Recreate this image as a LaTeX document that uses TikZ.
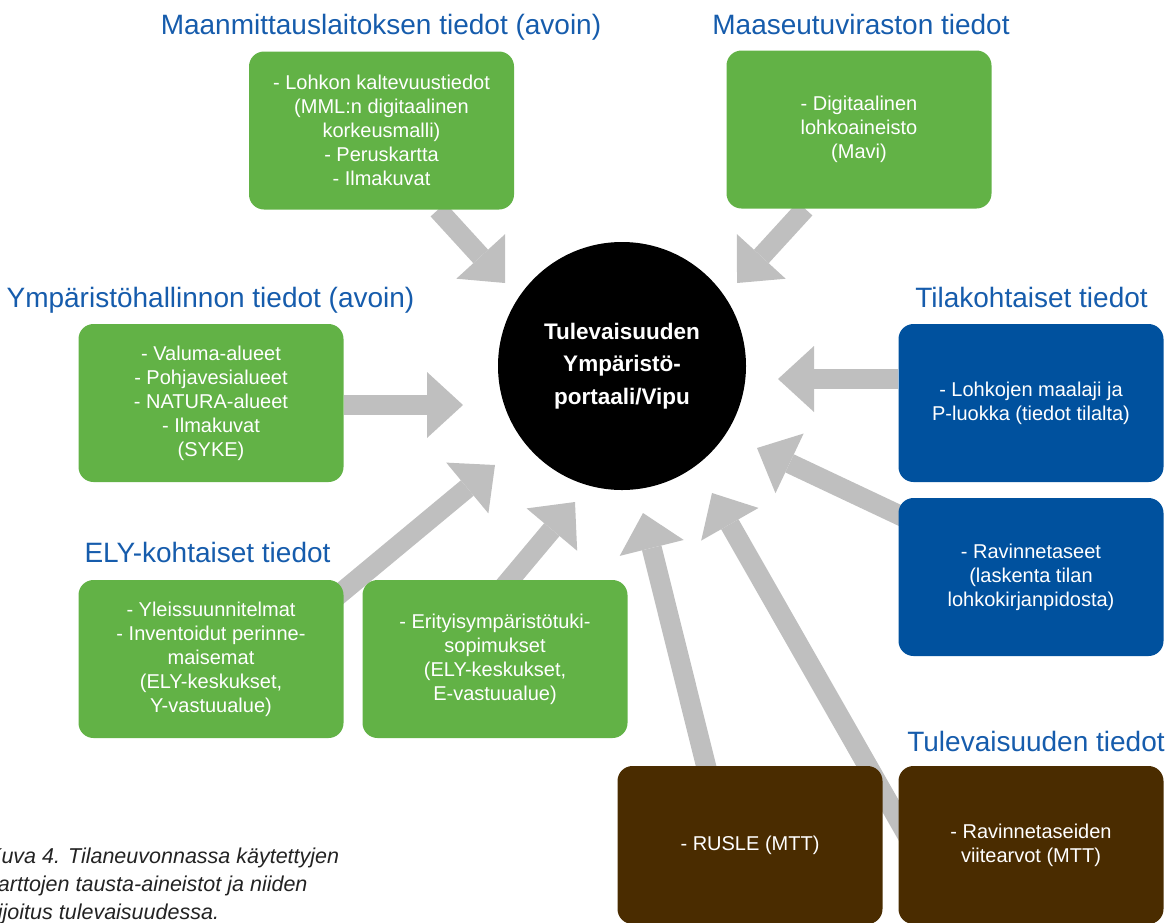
\documentclass[tikz,border=0pt]{standalone}
\usepackage{fontspec}
\setmainfont{Liberation Sans}
\usetikzlibrary{arrows.meta,backgrounds}
\definecolor{boxgreen}{RGB}{98,178,70}
\definecolor{boxblue}{RGB}{0,81,158}
\definecolor{boxbrown}{RGB}{74,44,0}
\definecolor{titleblue}{RGB}{22,92,172}
\definecolor{arrowgray}{RGB}{191,191,191}
\definecolor{captiongray}{RGB}{35,35,35}
\begin{document}
\begin{tikzpicture}[x=1pt,y=-1pt,
  databox/.style={rectangle, rounded corners=15pt, minimum width=265pt, minimum height=158pt,
    inner sep=0pt, align=center, text=white, font=\fontsize{20}{24}\selectfont},
  greenbox/.style={databox, fill=boxgreen},
  bluebox/.style={databox, fill=boxblue},
  brownbox/.style={databox, fill=boxbrown},
  grouptitle/.style={anchor=base, inner sep=0pt, text=titleblue, font=\fontsize{28}{34}\selectfont},
  bigarrow/.style={draw=arrowgray, line width=20pt,
    -{Triangle[length=36pt,width=66pt,line width=0pt]}}]
\useasboundingbox (0,0) rectangle (1170,922);

% titles
\node[grouptitle] (tmml) at (381,34) {Maanmittauslaitoksen tiedot (avoin)};
\node[grouptitle] (tmavi) at (861,34) {Maaseutuviraston tiedot};
\node[grouptitle] (tymp) at (210.5,307) {Ympäristöhallinnon tiedot (avoin)};
\node[grouptitle] (ttila) at (1031.5,307) {Tilakohtaiset tiedot};
\node[grouptitle] (tely) at (207.5,562) {ELY-kohtaiset tiedot};
\node[grouptitle] (ttul) at (1036,751) {Tulevaisuuden tiedot};

% boxes
\node[greenbox] (mml) at (381.5,130.5) {- Lohkon kaltevuustiedot\\(MML:n digitaalinen\\korkeusmalli)\\- Peruskartta\\- Ilmakuvat};
\node[greenbox] (mavi) at (859,129.5) {- Digitaalinen\\lohkoaineisto\\(Mavi)};
\node[greenbox] (ymp) at (211,403) {- Valuma-alueet\\- Pohjavesialueet\\- NATURA-alueet\\- Ilmakuvat\\(SYKE)};
\node[greenbox] (ely1) at (211,659) {- Yleissuunnitelmat\\- Inventoidut perinne-\\maisemat\\(ELY-keskukset,\\Y-vastuualue)};
\node[greenbox] (ely2) at (495,659) {- Erityisympäristötuki-\\sopimukset\\(ELY-keskukset,\\E-vastuualue)};
\node[bluebox] (tila1) at (1031,403) {- Lohkojen maalaji ja\\P-luokka (tiedot tilalta)};
\node[bluebox] (tila2) at (1031,577) {- Ravinnetaseet\\(laskenta tilan\\lohkokirjanpidosta)};
\node[brownbox] (rusle) at (750,845) {- RUSLE (MTT)};
\node[brownbox] (rav) at (1031,845) {- Ravinnetaseiden\\viitearvot (MTT)};

% centre
\node[circle, fill=black, minimum size=248pt, inner sep=0pt, align=center, text=white,
  font=\bfseries\fontsize{22.5}{32.5}\selectfont] (portal) at (622,366)
  {Tulevaisuuden\\Ympäristö-\\portaali/Vipu};

% caption
\node[anchor=north west, align=left, inner sep=0pt, text=captiongray,
  font=\itshape\fontsize{21.5}{28}\selectfont] (caption) at (-13,848)
  {Kuva 4. Tilaneuvonnassa käytettyjen\\karttojen tausta-aineistot ja niiden\\sijoitus tulevaisuudessa.};

% arrow tips
\coordinate (t1) at (505,283);
\coordinate (t2) at (737,283);
\coordinate (t3) at (463,405);
\coordinate (t4) at (778,379);
\coordinate (t5) at (757,448);
\coordinate (t6) at (643,513);
\coordinate (t7) at (712,493);
\coordinate (t8) at (495,465);
\coordinate (t9) at (575,502);

\begin{scope}[on background layer]
\draw[bigarrow] ([xshift=56.5pt]mml.south) -- (t1);
\draw[bigarrow] ([xshift=-54pt]mavi.south) -- (t2);
\draw[bigarrow] ([yshift=-2pt]ymp.east) -- (t3);
\draw[bigarrow] ([yshift=24pt]tila1.west) -- (t4);
\draw[bigarrow] ([xshift=21.5pt,yshift=-27pt]tila2.north west) -- (t5);
\draw[bigarrow] ([xshift=-38pt,yshift=-24pt]rusle.north) -- (t6);
\draw[bigarrow] ([xshift=11.5pt,yshift=-74pt]rav.north west) -- (t7);
\draw[bigarrow] ([xshift=-13.5pt,yshift=-22pt]ely1.north east) -- (t8);
\draw[bigarrow] ([xshift=-2pt,yshift=-20pt]ely2.north) -- (t9);
\end{scope}
\end{tikzpicture}
\end{document}
